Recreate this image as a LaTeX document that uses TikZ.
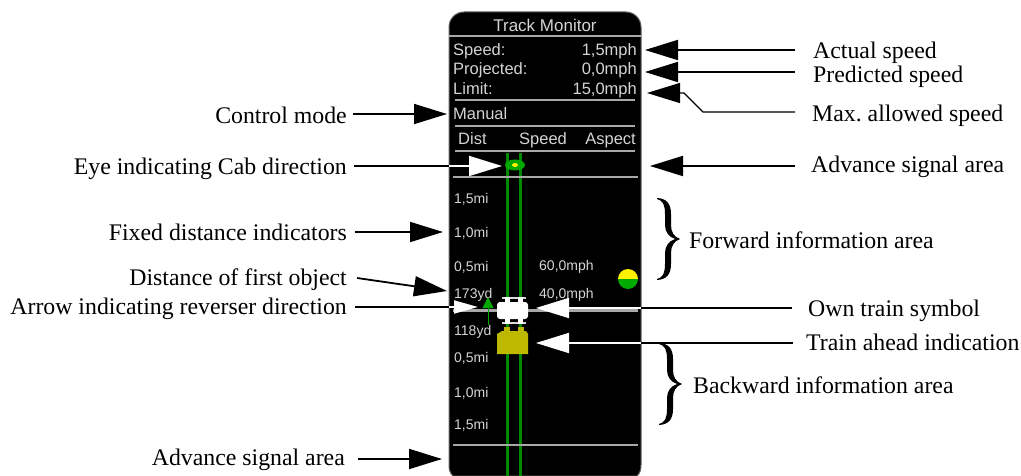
\documentclass[tikz,border=0pt]{standalone}
\usepackage{fontspec}
\setmainfont{Liberation Serif}
\setsansfont{Liberation Sans}
\usetikzlibrary{arrows.meta}

\definecolor{paneltext}{HTML}{D4D4D4}
\definecolor{panelrule}{HTML}{A8A8A8}
\definecolor{paneledge}{HTML}{66665E}
\definecolor{railgreen}{HTML}{008A00}
\definecolor{brightgreen}{HTML}{00A800}
\definecolor{aheadyellow}{HTML}{BFB800}

\tikzset{
	monitorpicture/.style = {
		x = 1pt,
		y = -1pt,
		callout/.style = {
			font = \fontsize{23.8}{26}\selectfont,
			inner sep = 0pt
		},
		readout/.style = {
			font = \sffamily\fontsize{16.5}{19}\selectfont,
			text = paneltext,
			inner sep = 0pt
		},
		tick/.style = {
			font = \sffamily\fontsize{14}{16}\selectfont,
			text = paneltext,
			inner sep = 0pt,
			anchor = base west
		},
		panelrule/.style = {
			draw = panelrule,
			line width = 1.5pt
		},
		rail/.style = {
			draw = railgreen,
			line width = 2.5pt
		},
		stem/.style = {
			draw = black,
			line width = 1.8pt
		},
		pointer/.style = {
			stem,
			-{Triangle[length = 33pt, width = 20pt]}
		},
		whitepointer/.style = {
			draw = white,
			line width = 1.8pt,
			-{Triangle[length = 33pt, width = 20pt]}
		}
	},
	areabrace/.pic = {
		\fill[black] (0,0) .. controls (9,0.5) and (14,5) .. (14,16)
			-- (14,27) .. controls (14,34) and (17,39) .. (23,41)
			.. controls (17,43) and (14,48) .. (14,55)
			-- (14,66) .. controls (14,77) and (9,81.5) .. (0,82)
			-- (0,81) .. controls (5,80) and (8,76) .. (8,66)
			-- (8,55) .. controls (8,48) and (12,43) .. (18,41)
			.. controls (12,39) and (8,34) .. (8,27)
			-- (8,16) .. controls (8,6) and (5,2) .. (0,1) -- cycle;
	}
}

\begin{document}
\begin{tikzpicture}[monitorpicture]
	\useasboundingbox (0,0) rectangle (1021,476);

	\fill[black, draw = paneledge, line width = 1pt] (449,465) -- (449,27)
		arc[start angle = 180, end angle = 90, radius = 15pt] -- (626,12)
		arc[start angle = 90, end angle = 0, radius = 15pt] -- (641,465)
		.. controls (641,470) and (640,473) .. (637,476) -- (453,476)
		.. controls (450,473) and (449,470) .. (449,465) -- cycle;

	\coordinate (panelw) at (449,0);
	\coordinate (panele) at (641,0);

	\node[readout, font = \sffamily\fontsize{17}{19}\selectfont] (title) at (545,25) {Track Monitor};
	\node[readout, anchor = base west] (speed) at (453,56) {Speed:};
	\node[readout, anchor = base east] (speedval) at (637,56) {1,5mph};
	\node[readout, anchor = base west] (projected) at (453,75) {Projected:};
	\node[readout, anchor = base east] (projectedval) at (637,75) {0,0mph};
	\node[readout, anchor = base west] (limit) at (453,95) {Limit:};
	\node[readout, anchor = base east] (limitval) at (637,95) {15,0mph};
	\node[readout, anchor = base west] (manual) at (453,120) {Manual};
	\node[readout, anchor = base west] (dist) at (458,145) {Dist};
	\node[readout, anchor = base] (speedhead) at (543,145) {Speed};
	\node[readout, anchor = base east] (aspect) at (636,145) {Aspect};

	\path[panelrule] (449,36) -- (641,36);
	\path[panelrule] (455,100) -- (635,100);
	\path[panelrule] (455,126) -- (635,126);
	\path[panelrule] (455,151) -- (635,151);

	\path[rail] (507.5,153) -- (507.5,476);
	\path[rail] (520.5,153) -- (520.5,476);

	\path[panelrule] (453,177) -- (638,177);
	\path[panelrule, line width = 3pt] (453,310) -- (638,310);
	\path[panelrule] (453,445) -- (638,445);

	\fill[brightgreen] (515,165) ellipse [x radius = 10pt, y radius = 5.5pt];
	\fill[yellow] (515,165) ellipse [x radius = 3pt, y radius = 2pt];

	\node[tick] (fwdfar) at (454,204) {1,5mi};
	\node[tick] (fwdmid) at (454,237) {1,0mi};
	\node[tick] (fwdnear) at (454,271) {0,5mi};
	\node[tick] (first) at (454,298) {173yd};
	\node[tick] (second) at (454,335) {118yd};
	\node[tick] (backnear) at (454,362) {0,5mi};
	\node[tick] (backmid) at (454,397) {1,0mi};
	\node[tick] (backfar) at (454,429) {1,5mi};
	\node[tick] (limitfar) at (539,270) {60,0mph};
	\node[tick] (limitnear) at (539,298) {40,0mph};

	\fill[yellow] (618,279) arc[start angle = 180, end angle = 0, radius = 10pt] -- cycle;
	\fill[brightgreen] (618,279) arc[start angle = 180, end angle = 360, radius = 10pt] -- cycle;

	\draw[brightgreen, line width = 1pt, -{Triangle[length = 11pt, width = 11pt]}] (488,325) -- (488,297);

	\fill[white!85!black] (502,297) rectangle (526,299);
	\fill[white!85!black] (502,322) rectangle (526,324);
	\fill[white] (505,297) rectangle (510,324);
	\fill[white] (518,297) rectangle (523,324);
	\fill[white, rounded corners = 3pt] (497,302) rectangle (528,319);

	\fill[aheadyellow] (504,327) rectangle (510,332);
	\fill[aheadyellow] (518,327) rectangle (524,332);
	\fill[aheadyellow] (497,354) -- (497,334) -- (502,331) -- (526,331) -- (528,334) -- (528,354) -- cycle;

	\node[callout, anchor = base east] (modelabel) at (347,124) {Control mode};
	\node[callout, anchor = base east] (eyelabel) at (347,174.5) {Eye indicating Cab direction};
	\node[callout, anchor = base east] (fixedlabel) at (347,240.5) {Fixed distance indicators};
	\node[callout, anchor = base east] (firstlabel) at (347,285.5) {Distance of first object};
	\node[callout, anchor = base east] (reverserlabel) at (347,314.5) {Arrow indicating reverser direction};
	\node[callout, anchor = base east] (lowerlabel) at (345,465) {Advance signal area};

	\node[callout, anchor = base west] (actuallabel) at (813,59) {Actual speed};
	\node[callout, anchor = base west] (predictedlabel) at (813,83) {Predicted speed};
	\node[callout, anchor = base west] (maxlabel) at (812,121.5) {Max.\ allowed speed};
	\node[callout, anchor = base west] (upperlabel) at (811,173) {Advance signal area};
	\node[callout, anchor = base west] (forwardlabel) at (689,248) {Forward information area};
	\node[callout, anchor = base west] (ownlabel) at (808,316) {Own train symbol};
	\node[callout, anchor = base west] (aheadlabel) at (806,350.5) {Train ahead indication};
	\node[callout, anchor = base west] (backwardlabel) at (693,393) {Backward information area};

	\coordinate (modetip) at (447,114);
	\coordinate (eyetip) at (502,166);
	\coordinate (fixedtip) at (443,232);
	\coordinate (firsttail) at (357,278);
	\coordinate (firsttip) at (447,291);
	\coordinate (reversertip) at (478,307);
	\coordinate (lowertip) at (442,459);
	\coordinate (actualtip) at (645,50);
	\coordinate (predictedtip) at (645,72);
	\coordinate (maxtip) at (647,93);
	\coordinate (maxturn) at (684,93);
	\coordinate (maxbend) at (703,112);
	\coordinate (uppertip) at (650,166);
	\coordinate (owntip) at (536,308);
	\coordinate (aheadtip) at (536,343);

	\draw[pointer, shorten <= 6pt] (modelabel.east |- modetip) -- (modetip);
	\draw[stem, shorten <= 7pt] (eyelabel.east |- eyetip) -- (eyetip -| panelw);
	\draw[whitepointer] (eyetip -| panelw) -- (eyetip);
	\draw[pointer, shorten <= 8pt] (fixedlabel.east |- fixedtip) -- (fixedtip);
	\draw[pointer] (firsttail) -- (firsttip);
	\draw[stem, shorten <= 8pt] (reverserlabel.east |- reversertip) -- (reversertip -| panelw);
	\draw[white, line width = 1.8pt, -{Triangle[length = 24pt, width = 13pt]}] (reversertip -| panelw) -- (reversertip);
	\draw[pointer, shorten <= 13pt] (lowerlabel.east |- lowertip) -- (lowertip);

	\draw[pointer, shorten <= 18pt] (actuallabel.west |- actualtip) -- (actualtip);
	\draw[pointer, shorten <= 18pt] (predictedlabel.west |- predictedtip) -- (predictedtip);
	\draw[pointer, line width = 1.3pt, shorten <= 17pt] (maxlabel.west |- maxbend) -- (maxbend) -- (maxturn) -- (maxtip);
	\draw[pointer, shorten <= 16pt] (upperlabel.west |- uppertip) -- (uppertip);
	\draw[stem, shorten <= 16pt] (ownlabel.west |- owntip) -- (owntip -| panele);
	\draw[whitepointer] (owntip -| panele) -- (owntip);
	\draw[stem, shorten <= 13pt] (aheadlabel.west |- aheadtip) -- (aheadtip -| panele);
	\draw[whitepointer] (aheadtip -| panele) -- (aheadtip);

	\pic at (657,198) {areabrace};
	\pic at (659,343) {areabrace};
\end{tikzpicture}
\end{document}
